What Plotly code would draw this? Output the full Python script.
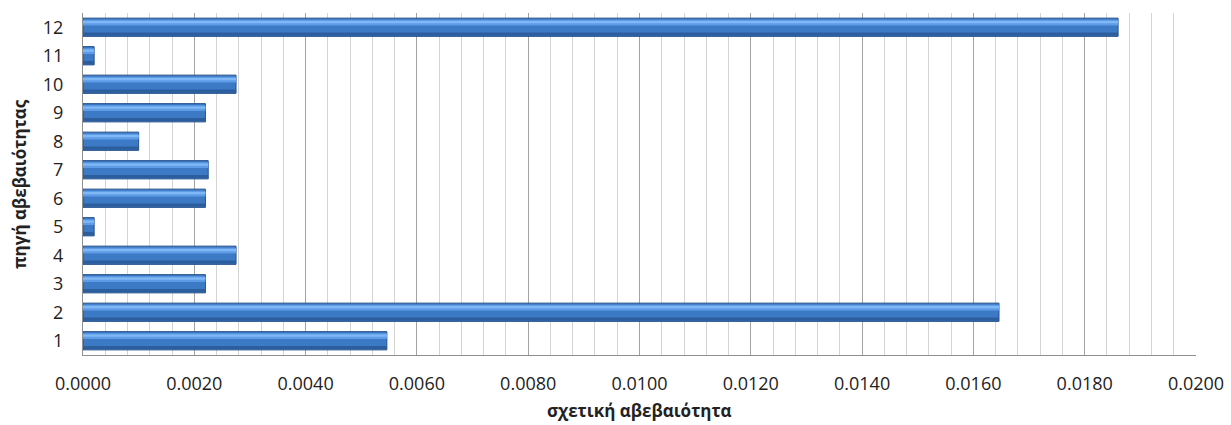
import plotly.graph_objects as go

categories = ["1", "2", "3", "4", "5", "6", "7", "8", "9", "10", "11", "12"]
values = [0.00546, 0.01646, 0.0022, 0.00275, 0.0002, 0.0022, 0.00225, 0.0010, 0.0022, 0.00275, 0.0002, 0.0186]
x_title = "σχετική αβεβαιότητα"
y_title = "πηγή αβεβαιότητας"

fig = go.Figure()
# main bar body
fig.add_trace(go.Bar(
    y=categories, x=values, orientation="h", width=0.64,
    marker=dict(color="#3D7AC6", line=dict(color="#25518A", width=1)),
    hoverinfo="x+y", showlegend=False,
))
# lighter upper band (gradient effect)
fig.add_trace(go.Bar(
    y=categories, x=values, orientation="h", width=0.2, offset=0.06,
    marker=dict(color="#5E9CE8", line=dict(width=0)),
    hoverinfo="skip", showlegend=False,
))
fig.add_trace(go.Bar(
    y=categories, x=values, orientation="h", width=0.08, offset=0.14,
    marker=dict(color="#80B8F6", line=dict(width=0)),
    hoverinfo="skip", showlegend=False,
))
# darker lower band
fig.add_trace(go.Bar(
    y=categories, x=values, orientation="h", width=0.12, offset=-0.3,
    marker=dict(color="#2C5D9D", line=dict(width=0)),
    hoverinfo="skip", showlegend=False,
))

fig.update_layout(
    barmode="overlay",
    width=1231, height=425,
    margin=dict(l=83, r=35, t=13, b=70, autoexpand=False),
    paper_bgcolor="white", plot_bgcolor="white",
    font=dict(family="Open Sans", size=18, color="#222222"),
    xaxis=dict(
        range=[0, 0.02], dtick=0.002, tickformat=".4f",
        showgrid=True, gridcolor="#a3a3a3", gridwidth=1,
        minor=dict(dtick=0.0004, showgrid=True, gridcolor="#d4d4d4", gridwidth=1),
        showline=True, linecolor="#8f8f8f", linewidth=1,
        zeroline=False, ticks="outside", ticklen=12, tickcolor="rgba(0,0,0,0)",
        tickfont=dict(size=18), automargin=False,
    ),
    yaxis=dict(
        type="category", categoryorder="array", categoryarray=categories,
        range=[-0.5, 11.5],
        showgrid=False, showline=True, linecolor="#8f8f8f", linewidth=1,
        ticks="outside", ticklen=15, tickcolor="rgba(0,0,0,0)",
        tickfont=dict(size=18), automargin=False,
    ),
    annotations=[
        dict(text="<b>" + x_title + "</b>", xref="paper", yref="paper",
             x=0.5, y=0, yshift=-55, xanchor="center", yanchor="middle",
             showarrow=False, font=dict(size=17, family="Open Sans", color="#222222")),
        dict(text="<b>" + y_title + "</b>", xref="paper", yref="paper",
             x=0, xshift=-64, y=0.5, xanchor="center", yanchor="middle", textangle=-90,
             showarrow=False, font=dict(size=17, family="Open Sans", color="#222222")),
    ],
)

fig.write_html(
    "out.html",
    config={"displayModeBar": False},
    post_script="document.body.style.margin='0';document.body.style.overflow='hidden';",
)
